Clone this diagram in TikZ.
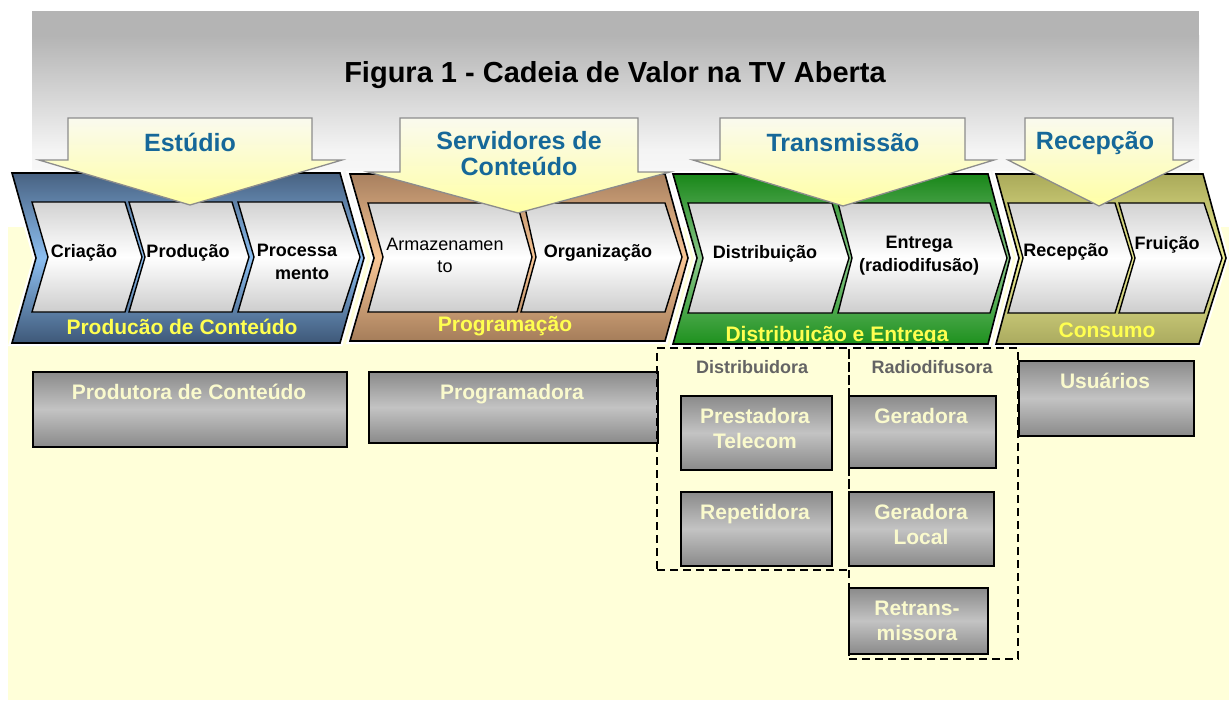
\documentclass[tikz,border=0pt]{standalone}
\usepackage{fontspec}
\setmainfont{Liberation Sans}
\definecolor{bgyellow}{RGB}{255,255,217}
\definecolor{labelblue}{RGB}{22,104,153}
\definecolor{chyellow}{RGB}{255,255,80}
\definecolor{boxtext}{RGB}{250,250,205}
\definecolor{graytext}{RGB}{100,100,100}
\definecolor{bluetop}{RGB}{72,98,130}
\definecolor{bluemid}{RGB}{140,190,240}
\definecolor{bluebot}{RGB}{62,88,120}
\definecolor{browntop}{RGB}{168,128,95}
\definecolor{brownmid}{RGB}{248,198,150}
\definecolor{brownbot}{RGB}{165,125,90}
\definecolor{greentop}{RGB}{25,135,25}
\definecolor{greenmid}{RGB}{140,200,140}
\definecolor{greenbot}{RGB}{30,145,30}
\definecolor{olivetop}{RGB}{170,170,90}
\definecolor{olivemid}{RGB}{240,240,150}
\definecolor{olivebot}{RGB}{170,170,95}
\definecolor{cgtop}{RGB}{210,210,210}
\definecolor{cgbot}{RGB}{205,205,205}
\definecolor{arrowtop}{RGB}{250,250,238}
\definecolor{arrowbot}{RGB}{255,255,165}
\definecolor{arrowgray}{RGB}{140,140,140}
\definecolor{boxdark}{RGB}{138,138,138}
\definecolor{boxlight}{RGB}{195,195,195}
\definecolor{bggray}{RGB}{180,180,180}
\definecolor{bgpale}{RGB}{244,244,244}
\begin{document}
\begin{tikzpicture}[x=1pt,y=-1pt,
  outerchev/.style={draw=black,line width=1.6,preaction={draw=white,line width=6}},
  innerchev/.style={draw=black,line width=1.4,top color=cgtop,bottom color=cgbot,middle color=white},
  downarrow/.style={draw=arrowgray,line width=1.3,top color=arrowtop,bottom color=arrowbot},
  arrowlabel/.style={text=labelblue,font=\fontsize{25}{26}\selectfont\bfseries,align=center},
  steplabel/.style={font=\fontsize{18}{23}\selectfont\bfseries,align=center,inner sep=0},
  stepplain/.style={font=\fontsize{18}{22}\selectfont,align=center,inner sep=0},
  bandlabel/.style={text=chyellow,font=\fontsize{21}{24}\selectfont\bfseries,anchor=base,inner sep=0},
  actor/.style={draw=black,line width=1.5,top color=boxdark,bottom color=boxdark,middle color=boxlight,anchor=north west,inner sep=0},
  actortext/.style={text=boxtext,font=\fontsize{21}{25}\selectfont\bfseries,align=center,inner sep=0},
  grouplabel/.style={text=graytext,font=\fontsize{18}{20}\selectfont\bfseries,anchor=base,inner sep=0},
  groupbox/.style={draw=black,line width=2.2,dash pattern=on 8pt off 5pt}
]
\useasboundingbox (0,0) rectangle (1229,702);
% backgrounds
\fill[white] (0,0) rectangle (1229,702);
\fill[bggray] (32,11) rectangle (1199,36);
\fill[top color=bggray,bottom color=bgpale] (32,35.5) rectangle (1199,150);
\fill[top color=bgpale,bottom color=white] (32,149.5) rectangle (1199,227);
\fill[bgyellow] (8,227) rectangle (1229,700);
\node[font=\fontsize{29}{32}\selectfont\bfseries,anchor=base] (title) at (615,82) {Figura 1 - Cadeia de Valor na TV Aberta};

% outer chevrons
\draw[outerchev,top color=bluetop,bottom color=bluebot,middle color=bluemid]
  (12,173) -- (340,173) -- (364,258) -- (340,343) -- (12,343) -- (36,258) -- cycle;
\draw[outerchev,top color=browntop,bottom color=brownbot,middle color=brownmid]
  (350,174) -- (665,174) -- (688,258) -- (665,341) -- (350,341) -- (374,258) -- cycle;
\draw[outerchev,top color=greentop,bottom color=greenbot,middle color=greenmid]
  (673,174) -- (988,174) -- (1010,258) -- (988,344) -- (673,344) -- (697,258) -- cycle;
\draw[outerchev,top color=olivetop,bottom color=olivebot,middle color=olivemid]
  (996,174) -- (1203,174) -- (1226,258) -- (1199,344) -- (996,344) -- (1019,258) -- cycle;

% inner chevrons
\draw[innerchev] (32,202) -- (125,202) -- (142,257) -- (125,312) -- (32,312) -- (48,257) -- cycle;
\draw[innerchev] (129,202) -- (232,202) -- (249,257) -- (232,312) -- (129,312) -- (145,257) -- cycle;
\draw[innerchev] (238,202) -- (342,202) -- (360,257) -- (342,312) -- (238,312) -- (254,257) -- cycle;
\draw[innerchev] (368,203) -- (517,203) -- (532,257) -- (517,312) -- (368,312) -- (383,257) -- cycle;
\draw[innerchev] (524,203) -- (665,203) -- (682,257) -- (665,312) -- (521,312) -- (536,257) -- cycle;
\draw[innerchev] (688,203) -- (832,203) -- (849,258) -- (832,313) -- (688,313) -- (703,258) -- cycle;
\draw[innerchev] (838,203) -- (990,203) -- (1007,258) -- (990,313) -- (838,313) -- (852,258) -- cycle;
\draw[innerchev] (1008,203) -- (1115,203) -- (1132,258) -- (1115,313) -- (1008,313) -- (1023,258) -- cycle;
\draw[innerchev] (1119,203) -- (1204,203) -- (1222,258) -- (1204,313) -- (1119,313) -- (1135,258) -- cycle;

% step labels
\node[steplabel,anchor=base] (criacao) at (84,257) {Criação};
\node[steplabel,anchor=base] (producao) at (188,257) {Produção};
\node[steplabel] (processamento) at (297,262) {Processa\\\ \ mento};
\node[stepplain] (armazenamento) at (445,255) {Armazenamen\\to};
\node[steplabel,anchor=base] (organizacao) at (598,257) {Organização};
\node[steplabel,anchor=base] (distribuicao) at (765,258) {Distribuição};
\node[steplabel] (entrega) at (919,256) {Entrega\\(radiodifusão)};
\node[steplabel,anchor=base] (recepcaostep) at (1066,256) {Recepção};
\node[steplabel,anchor=base] (fruicao) at (1167,249) {Fruição};

% band labels
\node[bandlabel] (bandprod) at (182,334) {Producão de Conteúdo};
\node[bandlabel] (bandprog) at (505,331) {Programação};
\begin{scope}
\clip (673,174) -- (988,174) -- (1010,258) -- (988,341) -- (673,341) -- (697,258) -- cycle;
\node[bandlabel] (banddist) at (837,341) {Distribuicão e Entrega};
\end{scope}
\node[bandlabel] (bandcons) at (1107,337) {Consumo};

% down arrows
\draw[downarrow] (68,118) -- (312,118) -- (312,160) -- (342,160) -- (190,205) -- (39,160) -- (68,160) -- cycle;
\draw[downarrow] (400,118) -- (638,118) -- (638,172) -- (670,172) -- (518,213) -- (368,172) -- (400,172) -- cycle;
\draw[downarrow] (720,118) -- (965,118) -- (965,160) -- (994,160) -- (843,206) -- (693,160) -- (720,160) -- cycle;
\draw[downarrow] (1025,118) -- (1173,118) -- (1173,160) -- (1192,160) -- (1099,206) -- (1008,160) -- (1025,160) -- cycle;
\node[arrowlabel,anchor=base] (estudio) at (190,151) {Estúdio};
\node[arrowlabel] (servidores) at (519,154) {Servidores de\\Conteúdo};
\node[arrowlabel,anchor=base] (transmissao) at (843,151) {Transmissão};
\node[arrowlabel,anchor=base] (recepcao) at (1095,149) {Recepção};

% actor boxes
\node[actor,minimum width=314pt,minimum height=75pt] (produtora) at (32,371) {};
\node[actor,minimum width=289pt,minimum height=71pt] (programadora) at (368,371) {};
\node[actor,minimum width=151pt,minimum height=74pt] (prestadora) at (680,395) {};
\node[actor,minimum width=151pt,minimum height=74pt] (repetidora) at (680,491) {};
\node[actor,minimum width=147pt,minimum height=72pt] (geradora) at (848,395) {};
\node[actor,minimum width=145pt,minimum height=74pt] (geradoralocal) at (848,491) {};
\node[actor,minimum width=139pt,minimum height=66pt] (retrans) at (848,587) {};
\node[actor,minimum width=175pt,minimum height=75pt] (usuarios) at (1018,360) {};

\node[actortext,anchor=base] (tprodutora) at (189,399) {Produtora de Conteúdo};
\node[actortext,anchor=base] (tprogramadora) at (512,399) {Programadora};
\node[actortext] (tprestadora) at (755,428) {Prestadora\\Telecom};
\node[actortext,anchor=base] (trepetidora) at (755,519) {Repetidora};
\node[actortext,anchor=base] (tgeradora) at (921,423) {Geradora};
\node[actortext] (tgeradoralocal) at (921,524) {Geradora\\Local};
\node[actortext] (tretrans) at (917,621) {Retrans-\\missora};
\node[actortext,anchor=base] (tusuarios) at (1105,388) {Usuários};

% dashed groups
\node[groupbox,anchor=north west,minimum width=192pt,minimum height=222pt,inner sep=0] (gdist) at (656,347) {};
\node[groupbox,anchor=north west,minimum width=169pt,minimum height=311pt,inner sep=0] (grad) at (848,347) {};
\node[grouplabel] (ldist) at (752,373) {Distribuidora};
\node[grouplabel] (lrad) at (932,373) {Radiodifusora};
\end{tikzpicture}
\end{document}
